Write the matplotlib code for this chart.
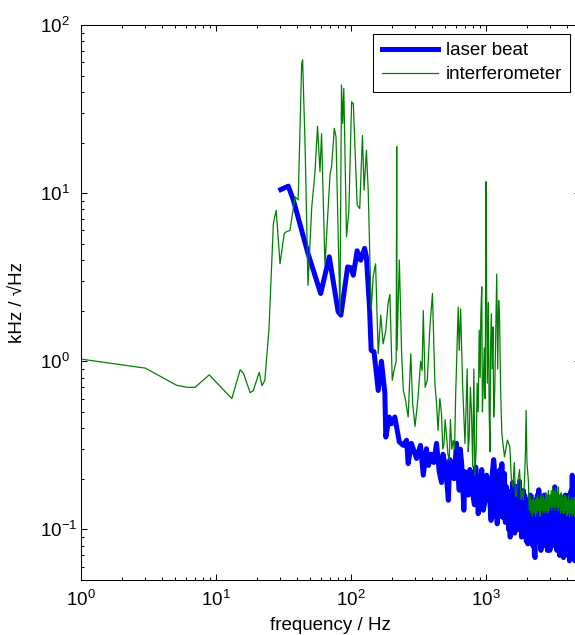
import matplotlib
matplotlib.use("Agg")
import matplotlib.pyplot as plt
import numpy as np
from matplotlib.ticker import LogLocator, NullFormatter

# ==== データ ====
# interferometer (green)
green_f = [1.0, 3.0, 5.1, 6.1, 7.0, 8.9, 13.1, 15.1, 16.0, 17.9, 18.9, 20.9, 21.9, 23.0,
           24.7, 26.6, 27.9, 29.8, 32.0, 33.3, 35.3, 38.5, 40.6, 43.1, 43.8, 45.7, 48.0,
           51.2, 54.0, 56.5, 58.9, 60.5, 64.1, 70.0, 71.8, 75.2, 77.4, 82.8, 85.0, 86.7,
           88.4, 92.6, 96.3, 101, 104, 111, 116, 121.5, 125, 130, 134, 141, 146, 152,
           159, 166, 173, 181, 188, 194, 202, 208, 216, 218, 219, 228, 237, 244, 252,
           265, 277, 286, 298, 313, 328, 336, 343, 354, 367, 384, 401, 418, 430, 441,
           468, 488, 511, 534, 572, 596, 622, 633, 648, 670, 698, 738, 766, 797, 827,
           860, 890, 930, 955, 1000, 1022, 1040, 1070, 1095, 1140, 1200, 1240, 1280,
           1310, 1370, 1440, 1500, 1540, 1580, 1620, 1650, 1680, 1720, 1770, 1820, 1860,
           1890, 1930, 1960, 1980, 2010,
           # extra spikes in the dense part
           455, 478, 498, 522, 545, 558, 585, 710, 725, 750, 780, 812, 845, 875, 905,
           915, 940, 970, 985, 1010, 1055, 1080, 1110, 1125, 1160, 1180, 1220, 1260, 1295]
green_v = [1.03, 0.91, 0.72, 0.70, 0.70, 0.83, 0.60, 0.89, 0.845, 0.65, 0.67, 0.86, 0.715, 0.77,
           1.57, 6.6, 7.9, 3.8, 5.75, 5.9, 6.0, 9.5, 9.1, 59, 62, 18.9, 2.83,
           8.3, 13.1, 25, 13.4, 22.6, 3.73, 13.1, 14.4, 24.3, 21.6, 1.92, 44, 26,
           42, 5.5, 7.75, 34.9, 34, 8.5, 8.1, 22, 10.4, 18, 10.4, 2.0, 3.2, 3.8,
           1.11, 1.88, 1.27, 1.53, 2.2, 2.5, 0.77, 0.88, 1.0, 18.9, 1.16, 4.0, 1.11, 0.67, 0.6,
           0.466, 1.11, 0.56, 0.41, 0.6, 1.0, 0.88, 2.0, 0.7, 0.77, 1.6, 2.53, 0.74, 0.56, 0.388,
           0.488, 0.324, 0.354, 0.258, 0.339, 0.64, 2.1, 1.16, 2.05, 0.74, 0.324, 0.29, 0.7, 0.235, 0.21,
           0.74, 1.53, 2.77, 0.74, 11.7, 0.74, 2.24, 0.29, 1.92, 0.466, 3.3, 2.3, 0.74,
           0.37, 0.27, 0.34, 0.31, 0.2, 0.179, 0.25, 0.16, 0.157, 0.19, 0.227, 0.15, 0.17,
           0.149, 0.2, 0.3, 0.51, 0.25,
           0.6, 0.3, 0.45, 0.28, 0.45, 0.3, 0.3, 0.5, 0.9, 0.35, 0.5, 0.9, 0.3, 0.5, 0.8,
           1.9, 0.5, 1.2, 0.6, 2.5, 0.5, 1.2, 0.9, 1.6, 0.67, 1.5, 0.9, 1.8, 0.5]

# interferometer, high-frequency floor
green_tail_f = [2060, 2090, 2120, 2150, 2180, 2210, 2240, 2270, 2300, 2330, 2360, 2390, 2420,
                2450, 2480, 2510, 2540, 2570, 2600, 2630, 2660, 2690, 2720, 2750, 2780, 2810,
                2840, 2870, 2900, 2930, 2960, 3000, 3040, 3080, 3120, 3160, 3200, 3240, 3280,
                3320, 3360, 3400, 3440, 3480, 3520, 3560, 3600, 3640, 3680, 3720, 3760, 3800,
                3840, 3880, 3920, 3960, 4000, 4050, 4100, 4150, 4200, 4250, 4300, 4350, 4400,
                4450, 4500, 4550, 4600, 4650, 4700, 4760, 4820, 4880, 4940, 5000]
green_tail_v = [0.193, 0.13, 0.16, 0.125, 0.15, 0.12, 0.16, 0.125, 0.15, 0.12, 0.155, 0.125, 0.16,
                0.13, 0.15, 0.12, 0.16, 0.13, 0.155, 0.125, 0.16, 0.13, 0.15, 0.125, 0.165, 0.13,
                0.16, 0.125, 0.17, 0.13, 0.16, 0.135, 0.17, 0.13, 0.18, 0.135, 0.17, 0.13, 0.175,
                0.135, 0.165, 0.13, 0.179, 0.135, 0.16, 0.125, 0.165, 0.13, 0.16, 0.125, 0.155, 0.125,
                0.16, 0.13, 0.155, 0.12, 0.15, 0.125, 0.16, 0.12, 0.15, 0.125, 0.155, 0.12, 0.15,
                0.125, 0.155, 0.12, 0.15, 0.125, 0.15, 0.12, 0.15, 0.125, 0.15, 0.13]

# laser beat (blue)
blue_f = [30.2, 34.3, 37.4, 48.0, 59.6, 69, 80.3, 84.1, 94.4, 100, 104, 111, 118, 126, 130,
          137, 141, 148, 159, 168, 178, 181, 192, 200, 211, 228, 244, 258, 265, 280, 306,
          327, 343, 362, 375, 392, 410, 430, 450, 468, 480, 496, 510, 526, 540, 555, 580,
          604, 620, 633, 645, 660, 685, 700, 718, 740, 760, 780, 802, 820, 838, 855, 875,
          900, 930, 955, 984, 1010, 1040, 1065, 1090, 1115, 1140,
          1150, 1170, 1190, 1210, 1230, 1250, 1270, 1290, 1310, 1330, 1350, 1370, 1390,
          1410, 1430, 1450, 1470, 1490, 1510, 1530, 1550, 1570, 1590, 1610, 1630, 1650,
          1670, 1690, 1710, 1730, 1750, 1770, 1790, 1810, 1830, 1850, 1870, 1890, 1910,
          1930, 1950, 1970, 1990, 2010, 2040, 2070, 2100, 2130, 2160, 2190, 2220, 2250,
          2280, 2310, 2340, 2370, 2400, 2430, 2460, 2490, 2520, 2550, 2580, 2610, 2640,
          2670, 2700, 2730, 2760, 2790, 2820, 2850, 2880, 2910, 2940, 2970, 3000, 3030,
          3070, 3110, 3150, 3190, 3230, 3270, 3310, 3350, 3390, 3430, 3470, 3510, 3550,
          3590, 3630, 3670, 3710, 3750, 3790, 3830, 3870, 3910, 3950, 3990, 4030, 4070,
          4110, 4150, 4190, 4230, 4270, 4310, 4350, 4390, 4430, 4470, 4510, 4550, 4600,
          4650, 4700, 4760, 4820, 4880, 4940, 5000]
blue_v = [10.5, 11.0, 9.1, 4.38, 2.53, 4.18, 1.97, 1.88, 3.64, 3.6, 3.25, 4.54, 3.99, 4.69, 4.18,
          2.1, 1.16, 1.14, 0.67, 1.0, 0.65, 0.354, 0.466, 0.425, 0.466, 0.331, 0.316, 0.339, 0.246, 0.325, 0.264,
          0.316, 0.21, 0.302, 0.24, 0.28, 0.25, 0.325, 0.22, 0.19, 0.28, 0.246, 0.2, 0.149, 0.26, 0.24, 0.2,
          0.325, 0.22, 0.171, 0.3, 0.246, 0.13, 0.22, 0.187, 0.16, 0.227, 0.2, 0.157, 0.14, 0.235, 0.2, 0.124,
          0.17, 0.227, 0.13, 0.149, 0.21, 0.193, 0.15, 0.113, 0.22, 0.26,
          0.24, 0.12, 0.2, 0.108, 0.22, 0.13, 0.227, 0.12, 0.246, 0.118, 0.2, 0.215, 0.11,
          0.18, 0.12, 0.17, 0.1, 0.16, 0.09, 0.15, 0.1, 0.19, 0.11, 0.17, 0.095, 0.16,
          0.103, 0.18, 0.1, 0.15, 0.12, 0.193, 0.1, 0.16, 0.09, 0.14, 0.113, 0.17, 0.095,
          0.16, 0.09, 0.15, 0.085, 0.14, 0.082, 0.15, 0.09, 0.16, 0.085, 0.13, 0.08, 0.15,
          0.07, 0.068, 0.14, 0.09, 0.16, 0.085, 0.172, 0.09, 0.14, 0.075, 0.15, 0.095, 0.14,
          0.08, 0.16, 0.09, 0.157, 0.085, 0.13, 0.075, 0.15, 0.08, 0.14, 0.075, 0.12, 0.085,
          0.15, 0.08, 0.16, 0.09, 0.179, 0.08, 0.14, 0.075, 0.15, 0.086, 0.13, 0.07, 0.149,
          0.08, 0.14, 0.075, 0.15, 0.068, 0.13, 0.07, 0.16, 0.08, 0.15, 0.075, 0.14, 0.07,
          0.16, 0.065, 0.15, 0.08, 0.17, 0.075, 0.21, 0.08, 0.16, 0.07, 0.15, 0.065, 0.18,
          0.08, 0.15, 0.07, 0.16, 0.08, 0.14, 0.1]

x_ticks = [1, 10, 100, 1000]
y_ticks = [0.1, 1, 10, 100]

# ==== スタイル ====
plt.rcParams["font.family"] = ["Liberation Sans", "DejaVu Sans"]
plt.rcParams["font.size"] = 13.5
plt.rcParams["mathtext.fontset"] = "custom"
plt.rcParams["mathtext.rm"] = "Liberation Sans"
plt.rcParams["mathtext.it"] = "Liberation Sans:italic"

fig = plt.figure(figsize=(5.75, 6.35), dpi=100)
ax = fig.add_axes([81 / 575, 55 / 635, 499.4 / 575, 555 / 635])

# 周波数順に並べる
gf = np.array(green_f + green_tail_f)
gv = np.array(green_v + green_tail_v)
gi = np.argsort(gf)
bi = np.argsort(blue_f)
ax.plot(np.array(blue_f)[bi], np.array(blue_v)[bi], color="#0000ff", lw=3.6,
        label="laser beat", solid_joinstyle="round")
ax.plot(gf[gi], gv[gi], color="#008000", lw=0.9, label="interferometer")

ax.set_xscale("log")
ax.set_yscale("log")
ax.set_xlim(1, 5000)
ax.set_ylim(0.05, 100)
ax.set_xticks(x_ticks)
ax.set_yticks(y_ticks)
ax.xaxis.set_minor_locator(LogLocator(base=10, subs=range(2, 10), numticks=20))
ax.yaxis.set_minor_locator(LogLocator(base=10, subs=range(2, 10), numticks=20))
ax.xaxis.set_minor_formatter(NullFormatter())
ax.yaxis.set_minor_formatter(NullFormatter())

ax.tick_params(which="both", direction="in", top=True, right=True, width=0.75)
ax.tick_params(which="major", length=4)
ax.tick_params(which="minor", length=2.3)
ax.tick_params(axis="x", pad=7)
ax.tick_params(axis="y", pad=29.5)
for lbl in ax.get_yticklabels():
    lbl.set_horizontalalignment("left")
for sp in ax.spines.values():
    sp.set_linewidth(0.75)

ax.set_xlabel("frequency / Hz", va="center")
ax.xaxis.set_label_coords(0.5, -(625 - 580) / 555)
ax.set_ylabel("kHz / \u221aHz", va="center")
ax.yaxis.set_label_coords((18 - 81) / 499.4, 0.5)

leg = ax.legend(loc="upper right", bbox_to_anchor=(0.98, 0.984), borderaxespad=0,
                fancybox=False, framealpha=1, edgecolor="black",
                handlelength=3.0, handletextpad=0.4, labelspacing=0.35,
                borderpad=0.45)
leg.get_frame().set_linewidth(0.75)

fig.savefig("out.png", dpi=100)
